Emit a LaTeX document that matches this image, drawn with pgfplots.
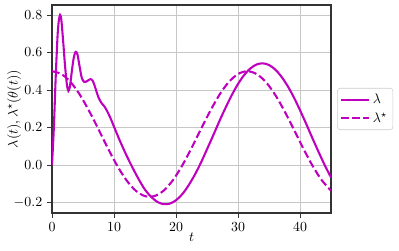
\documentclass[border=0pt]{standalone}
\usepackage{pgfplots}
\pgfplotsset{compat=1.18}
\definecolor{mpm}{rgb}{0.75,0,0.75}
\begin{document}
\begin{tikzpicture}
\useasboundingbox (-37.44pt,-26.64pt) rectangle (249.84pt,153.36pt);
\begin{axis}[
  at={(0,0)}, anchor=south west,
  scale only axis, width=200.9pt, height=149.76pt,
  xmin=0, xmax=45, ymin=-0.256, ymax=0.853,
  xtick={0,10,20,30,40},
  ytick={-0.2,0,0.2,0.4,0.6,0.8},
  yticklabel style={/pgf/number format/.cd, fixed, fixed zerofill, precision=1},
  xtick pos=bottom, ytick pos=left, tick align=outside,
  major tick length=3.5pt,
  tick style={black!80, line width=0.6pt},
  axis line style={black!80, line width=0.8pt},
  grid=major, grid style={black!22, line width=0.6pt},
  xlabel={$t$}, ylabel={$\lambda(t), \lambda^\star(\theta(t))$},
  xlabel style={yshift=6pt},
  ylabel style={at={(axis description cs:-0.136,0.5)}, anchor=center},
  legend style={at={(1.022,0.5)}, anchor=west, draw=black!20, rounded corners=2pt,
                font=\normalsize, inner sep=2pt, row sep=1pt, legend cell align=left},
  legend image code/.code={\draw[#1] (0pt,0pt) -- (20pt,0pt);},
]
\addplot[mpm, line width=1.5pt, smooth] coordinates {
(0,0) (0.3,0.2) (0.6,0.47) (0.9,0.69) (1.1,0.77) (1.3,0.80) (1.5,0.775)
(1.8,0.66) (2.1,0.53) (2.4,0.43) (2.65,0.395) (2.9,0.42) (3.2,0.50)
(3.5,0.57) (3.8,0.603) (4.1,0.59) (4.4,0.535) (4.8,0.465) (5.2,0.443)
(5.7,0.448) (6.2,0.458) (6.6,0.447) (7.0,0.41) (7.5,0.36) (8.0,0.33)
(8.5,0.31) (9.0,0.28) (9.5,0.245) (10,0.204) (11,0.125) (12,0.052)
(13,-0.015) (14,-0.077) (15,-0.132) (16,-0.170) (17,-0.197) (18,-0.209)
(19,-0.206) (20,-0.188) (21,-0.156) (22,-0.110) (23,-0.054) (24,0.011)
(25,0.084) (26,0.158) (27,0.234) (28,0.306) (29,0.373) (30,0.432)
(31,0.480) (32,0.515) (33,0.536) (34,0.542) (35,0.533) (36,0.509)
(37,0.471) (38,0.421) (39,0.361) (40,0.292) (41,0.219) (42,0.143)
(43,0.069) (44,-0.002) (45,-0.066)
};
\addlegendentry{$\lambda$}
\addplot[mpm, line width=1.5pt, dash pattern=on 5.55pt off 2.4pt, smooth] coordinates {
(0,0.500) (1.5,0.485) (3,0.442) (4.5,0.374) (6,0.287) (7.5,0.190)
(9,0.090) (10.5,-0.003) (12,-0.081) (13.5,-0.137) (15,-0.166) (16.5,-0.166)
(18,-0.137) (19.5,-0.081) (21,-0.003) (22.5,0.090) (24,0.190) (25.5,0.287)
(27,0.374) (28.5,0.442) (30,0.485) (31.5,0.500) (33,0.485) (34.5,0.442)
(36,0.374) (37.5,0.287) (39,0.190) (40.5,0.090) (42,-0.003) (43.5,-0.081)
(45,-0.137)
};
\addlegendentry{$\lambda^\star$}
\end{axis}
\end{tikzpicture}
\end{document}
